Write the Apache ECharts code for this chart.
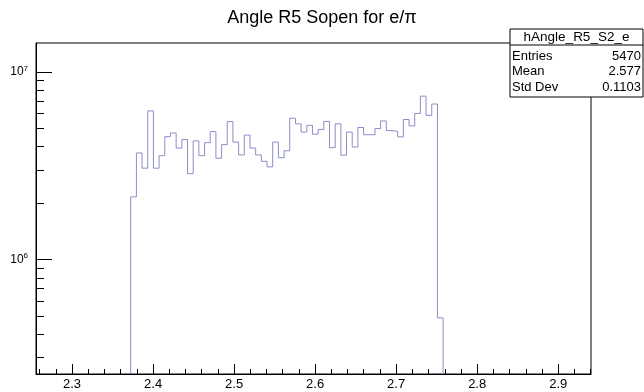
<!DOCTYPE html>
<html>
<head>
<meta charset="utf-8">
<script src="https://cdn.jsdelivr.net/npm/echarts@6/dist/echarts.min.js"></script>
<style>
  html, body { margin: 0; padding: 0; background: #ffffff; }
  #chart { width: 644px; height: 392px; }
</style>
</head>
<body>
<div id="chart"></div>
<script>
// Histogram hAngle_R5_S2_e : opening angle, region R5
const histName = 'hAngle_R5_S2_e';
const titleText = 'Angle R5 Sopen for e/\u03c0';

// fixed-width binning: lower edge of the first filled bin and bin width
const binLow = 2.3724;
const binWidth = 0.00701;

// bin contents, left to right
const binContents = [
  2.16e6, 3.70e6, 3.07e6, 6.20e6, 3.07e6, 3.58e6, 4.52e6, 4.73e6, 3.93e6, 4.36e6,
  2.87e6, 4.29e6, 3.58e6, 4.20e6, 4.81e6, 3.47e6, 4.10e6, 5.44e6, 4.23e6, 3.61e6,
  4.61e6, 3.93e6, 3.61e6, 3.34e6, 3.12e6, 4.23e6, 3.49e6, 3.80e6, 5.67e6, 5.29e6,
  4.78e6, 5.19e6, 4.66e6, 4.94e6, 5.45e6, 3.95e6, 5.29e6, 3.60e6, 4.78e6, 3.98e6,
  5.06e6, 4.63e6, 4.63e6, 4.99e6, 5.48e6, 4.87e6, 4.83e6, 4.51e6, 5.58e6, 5.16e6,
  6.01e6, 7.43e6, 5.87e6, 6.75e6, 4.89e5
];

// statistics box
const statLabels = ['Entries', 'Mean', 'Std Dev'];
const statValues = ['5470', '2.577', '0.1103'];

// axes
const xRange = [2.2555, 2.9405];
const yRange = [2.455e5, 1.427e7];
const xTickLabels = [2.3, 2.4, 2.5, 2.6, 2.7, 2.8, 2.9];
const yTickLabels = [1e6, 1e7];
const xMinorStep = 0.02;

const FONT = '"Liberation Sans", Arial, Helvetica, sans-serif';
const LINE_COLOR = '#8c8cc8';

// outline of the histogram: rise at the first edge, one step per bin, drop at the last edge
const outline = [[binLow, yRange[0]]];
binContents.forEach((v, i) => outline.push([binLow + i * binWidth, v]));
const hiEdge = binLow + binContents.length * binWidth;
outline.push([hiEdge, binContents[binContents.length - 1]]);
outline.push([hiEdge, yRange[0]]);

// minor tick positions
const xMinor = [];
for (let k = Math.ceil(xRange[0] / xMinorStep - 1e-9); k * xMinorStep <= xRange[1] + 1e-9; k++) {
  xMinor.push(+(k * xMinorStep).toFixed(4));
}
const yMinor = [];
for (let e = Math.floor(Math.log10(yRange[0])); e <= Math.ceil(Math.log10(yRange[1])); e++) {
  for (let m = 2; m <= 9; m++) {
    const v = m * Math.pow(10, e);
    if (v >= yRange[0] && v <= yRange[1]) yMinor.push(v);
  }
}

const chart = echarts.init(document.getElementById('chart'), null, { renderer: 'canvas' });

const GRID = { left: 36, top: 43, width: 555, height: 331 };

const statsGraphic = (() => {
  const x0 = 510, y0 = 29, w = 133, h = 68, headH = 16;
  const rowH = 15.5;
  const els = [
    { type: 'rect', shape: { x: x0, y: y0, width: w, height: h },
      style: { fill: '#ffffff', stroke: '#000000', lineWidth: 1 }, z: 100 },
    { type: 'line', shape: { x1: x0, y1: y0 + headH, x2: x0 + w, y2: y0 + headH },
      style: { stroke: '#000000', lineWidth: 1 }, z: 101 },
    { type: 'text', x: x0 + w / 2, y: y0 + headH / 2 + 0.5, z: 102,
      style: { text: histName, fill: '#000', font: '13.5px ' + FONT, align: 'center', verticalAlign: 'middle' } }
  ];
  statLabels.forEach((lab, i) => {
    const cy = y0 + headH + 11 + i * rowH;
    els.push({ type: 'text', x: x0 + 2, y: cy, z: 102,
      style: { text: lab, fill: '#000', font: '13px ' + FONT, align: 'left', verticalAlign: 'middle' } });
    els.push({ type: 'text', x: x0 + w - 2, y: cy, z: 102,
      style: { text: statValues[i], fill: '#000', font: '13px ' + FONT, align: 'right', verticalAlign: 'middle' } });
  });
  return els;
})();

chart.setOption({
  animation: false,
  backgroundColor: '#ffffff',
  title: {
    text: titleText,
    left: 'center',
    top: 4,
    textStyle: { fontFamily: FONT, fontSize: 18, fontWeight: 'normal', color: '#000' }
  },
  grid: Object.assign({
    show: true, borderColor: '#000', borderWidth: 1, backgroundColor: 'transparent',
    containLabel: false, outerBoundsMode: 'none'
  }, GRID),
  xAxis: [
    {
      type: 'value', min: xRange[0], max: xRange[1], position: 'bottom',
      axisLine: { show: true, onZero: false, lineStyle: { color: '#000', width: 1 } },
      axisTick: { show: true, inside: true, length: 10, customValues: xTickLabels,
                  lineStyle: { color: '#000', width: 1 } },
      axisLabel: { show: true, customValues: xTickLabels, margin: 4,
                   formatter: v => v.toFixed(1),
                   fontFamily: FONT, fontSize: 13, color: '#000' },
      splitLine: { show: false }
    },
    {
      type: 'value', min: xRange[0], max: xRange[1], position: 'bottom',
      axisLine: { show: false, onZero: false },
      axisTick: { show: true, inside: true, length: 5, customValues: xMinor,
                  lineStyle: { color: '#000', width: 1 } },
      axisLabel: { show: false },
      splitLine: { show: false }
    }
  ],
  yAxis: [
    {
      type: 'log', logBase: 10, min: yRange[0], max: yRange[1], position: 'left',
      axisLine: { show: true, onZero: false, lineStyle: { color: '#000', width: 1 } },
      axisTick: { show: true, inside: true, length: 16, customValues: yTickLabels,
                  lineStyle: { color: '#000', width: 1 } },
      axisLabel: {
        show: true, customValues: yTickLabels, margin: 8,
        formatter: v => '{b|10}{s|' + Math.round(Math.log10(v)) + '}',
        rich: {
          b: { fontFamily: FONT, fontSize: 12, color: '#000' },
          s: { fontFamily: FONT, fontSize: 8, color: '#000', padding: [0, 0, 7, 0] }
        }
      },
      splitLine: { show: false }
    },
    {
      type: 'log', logBase: 10, min: yRange[0], max: yRange[1], position: 'left',
      axisLine: { show: false, onZero: false },
      axisTick: { show: true, inside: true, length: 8, customValues: yMinor,
                  lineStyle: { color: '#000', width: 1 } },
      axisLabel: { show: false },
      splitLine: { show: false }
    }
  ],
  series: [
    {
      name: histName,
      type: 'line',
      xAxisIndex: 0,
      yAxisIndex: 0,
      step: 'end',
      data: outline,
      showSymbol: false,
      symbol: 'none',
      clip: true,
      lineStyle: { color: LINE_COLOR, width: 1 },
      emphasis: { disabled: true }
    }
  ],
  graphic: statsGraphic
});
</script>
</body>
</html>
